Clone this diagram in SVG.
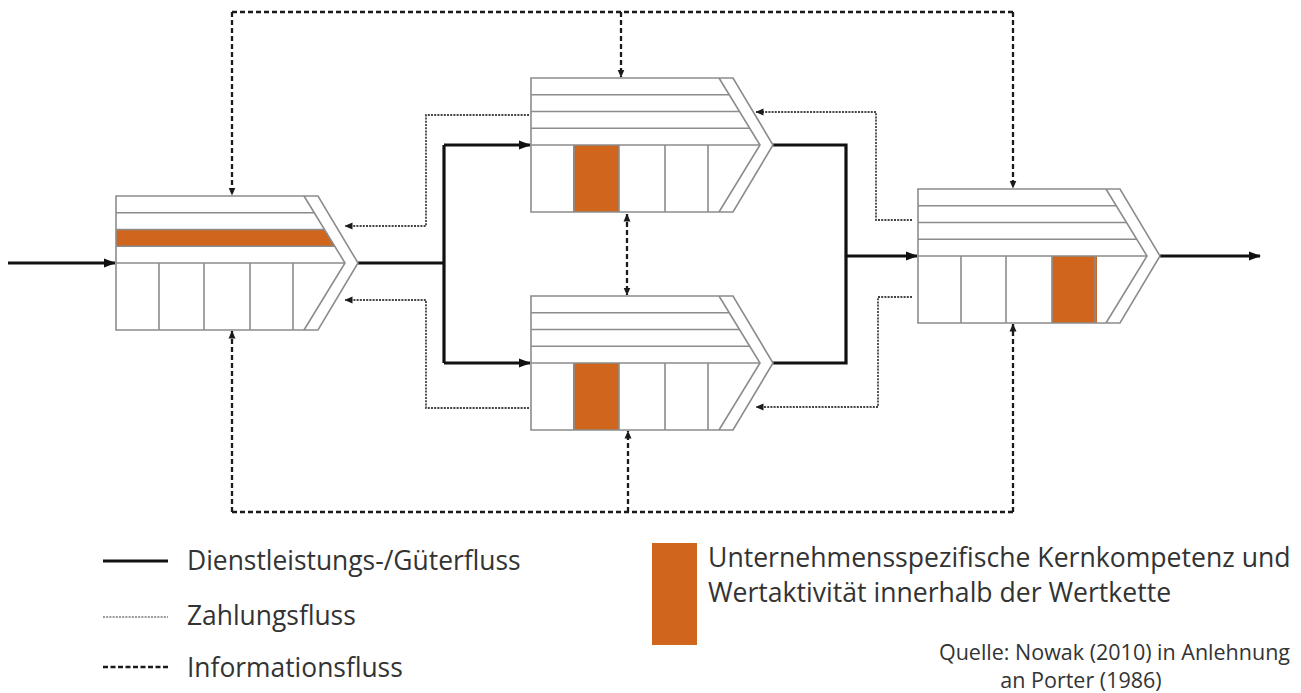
<svg xmlns="http://www.w3.org/2000/svg" xmlns:xlink="http://www.w3.org/1999/xlink" width="1301" height="693" viewBox="0 0 1301 693">
<style>
.frame{fill:none;stroke:#8c8c8c;stroke-width:1.6}
.core{fill:#D0661E;stroke:none}
.goods{fill:none;stroke:#111;stroke-width:3.2}
.pay{fill:none;stroke:#444;stroke-width:1.8;stroke-dasharray:2 1.2}
.info{fill:none;stroke:#1a1a1a;stroke-width:2.3;stroke-dasharray:5 3}
.txt{font-family:"Open Sans","Noto Sans",sans-serif;fill:#333}
</style>
<defs>
<marker id="aGoods" markerUnits="userSpaceOnUse" markerWidth="12" markerHeight="12" viewBox="0 0 12 12" refX="11" refY="6" orient="auto">
<path d="M0,1.5 L12,6 L0,10.5 Z" fill="#111"/>
</marker>
<marker id="aSmall" markerUnits="userSpaceOnUse" markerWidth="8" markerHeight="8" viewBox="0 0 8 8" refX="7.5" refY="4" orient="auto-start-reverse">
<path d="M0,0.5 L8,4 L0,7.5 Z" fill="#1a1a1a"/>
</marker>
<g id="frame" class="frame">
<path d="M0,0 H202 L242,67 L202,134 H0 Z"/>
<path d="M188,0 L229,67 L188,134"/>
<path d="M0,16.75 H198.3 M0,33.5 H208.5 M0,50.25 H218.8 M0,67 H229"/>
<path d="M43,67 V134 M88,67 V134 M134,67 V134 M177,67 V134"/>
</g>
</defs>

<g id="connectors">
<path class="goods" d="M8,263 H115" marker-end="url(#aGoods)"/>
<path class="goods" d="M358,263 H444"/>
<path class="goods" d="M444,145 V363"/>
<path class="goods" d="M444,145 H530" marker-end="url(#aGoods)"/>
<path class="goods" d="M444,363 H530" marker-end="url(#aGoods)"/>
<path class="goods" d="M773,145 H846 V363 H773"/>
<path class="goods" d="M846,256 H917" marker-end="url(#aGoods)"/>
<path class="goods" d="M1160,256 H1260" marker-end="url(#aGoods)"/>
<path class="pay" d="M529,115 H426 V226 H345" marker-end="url(#aSmall)"/>
<path class="pay" d="M529,408 H426 V300 H345" marker-end="url(#aSmall)"/>
<path class="pay" d="M912,220 H876 V112 H756" marker-end="url(#aSmall)"/>
<path class="pay" d="M912,297 H878 V407 H756" marker-end="url(#aSmall)"/>
<path class="info" d="M232,12 H1013"/>
<path class="info" d="M232,12 V195" marker-end="url(#aSmall)"/>
<path class="info" d="M621,12 V77" marker-end="url(#aSmall)"/>
<path class="info" d="M1013,12 V188" marker-end="url(#aSmall)"/>
<path class="info" d="M232,512 H1013"/>
<path class="info" d="M232,512 V331" marker-end="url(#aSmall)"/>
<path class="info" d="M628,512 V431" marker-end="url(#aSmall)"/>
<path class="info" d="M1013,512 V324" marker-end="url(#aSmall)"/>
<path class="info" d="M627,214 V295" marker-start="url(#aSmall)" marker-end="url(#aSmall)"/>
</g>

<g id="chain-left" transform="translate(116,196)">
<polygon class="core" points="0,33.5 208.5,33.5 218.8,50.25 0,50.25"/>
<use href="#frame" xlink:href="#frame"/>
</g>
<g id="chain-top" transform="translate(531,78)">
<rect class="core" x="42" y="67" width="46" height="67"/>
<use href="#frame" xlink:href="#frame"/>
</g>
<g id="chain-bottom" transform="translate(531,296)">
<rect class="core" x="42" y="67" width="46" height="67"/>
<use href="#frame" xlink:href="#frame"/>
</g>
<g id="chain-right" transform="translate(918,189)">
<rect class="core" x="134" y="67" width="45" height="67"/>
<use href="#frame" xlink:href="#frame"/>
</g>

<g id="legend">
<path class="goods" d="M103,561 H168"/>
<text class="txt" x="187" y="570" font-size="26.4">Dienstleistungs-/Güterfluss</text>
<path class="pay" d="M103,617 H168" style="stroke:#777;stroke-width:1.4"/>
<text class="txt" x="187" y="625" font-size="26.4">Zahlungsfluss</text>
<path class="info" d="M103,667 H168" style="stroke-dasharray:5 2.5"/>
<text class="txt" x="187" y="677" font-size="26.4">Informationsfluss</text>
<rect class="core" x="652" y="543" width="45" height="102"/>
<text class="txt" x="708" y="567" font-size="26.6">Unternehmensspezifische Kernkompetenz und</text>
<text class="txt" x="708" y="602" font-size="26.6">Wertaktivität innerhalb der Wertkette</text>
<text class="txt" x="1290" y="660" font-size="21.5" text-anchor="end">Quelle: Nowak (2010) in Anlehnung</text>
<text class="txt" x="1081" y="688" font-size="21.5" text-anchor="middle">an Porter (1986)</text>
</g>
</svg>
